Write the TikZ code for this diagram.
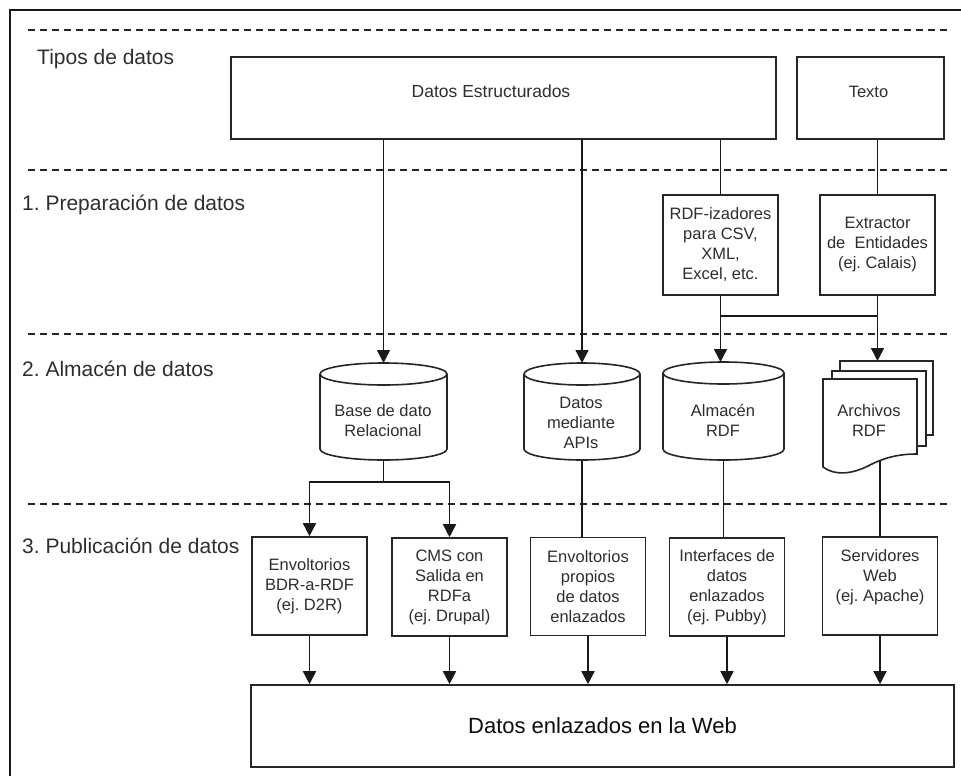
\documentclass[tikz,border=0pt]{standalone}
\usepackage{fontspec}
\setmainfont{Liberation Sans}
\usetikzlibrary{arrows.meta}
\pgfdeclarelayer{bg}
\pgfdeclarelayer{mid}
\pgfsetlayers{bg,mid,main}
\frenchspacing

% cylinder outline around a hidden rectangle node: #1 node name, #2 half width
\newcommand\drawcyl[2]{%
  \draw[shapeline, fill=white]
    ([yshift=-11pt]#1.north west) -- ([yshift=11pt]#1.south west)
    arc[start angle=180, end angle=360, x radius=#2, y radius=11pt]
    -- ([yshift=-11pt]#1.north east)
    arc[start angle=0, end angle=180, x radius=#2, y radius=11pt] -- cycle
    ([yshift=-11pt]#1.north west)
    arc[start angle=180, end angle=360, x radius=#2, y radius=11pt];}

\begin{document}
\begin{tikzpicture}[x=1pt, y=-1pt,
  txt/.style={font=\fontsize{16.5}{20}\selectfont, text=black!82, align=center, inner sep=0pt},
  shapeline/.style={draw=black!85, line width=1.6pt},
  box/.style={shapeline, fill=white, rectangle, inner sep=0pt,
    minimum width=115pt, minimum height=98pt, txt},
  hidden/.style={draw=none, rectangle, inner sep=0pt, outer sep=0pt},
  stage/.style={font=\fontsize{21}{24}\selectfont, text=black!82, anchor=west, inner sep=0pt},
  sep/.style={draw=black!85, line width=1.5pt, dash pattern=on 7pt off 5pt},
  conn/.style={draw=black!90, line width=1.5pt},
  arr/.style={conn, -{Triangle[length=13pt, width=13pt]}},
  frame/.style={draw=black!90, line width=1.6pt}]

\useasboundingbox (0,0) rectangle (961,776);

% outer frame
\draw[frame] (10,776) -- (10,10) -- (961,10);

% stage labels
\node[stage] (s0) at (37,59)  {Tipos de datos};
\node[stage] (s1) at (22,205) {1. Preparación de datos};
\node[stage] (s2) at (22,369) {2. Almacén de datos};
\node[stage] (s3) at (22,546) {3. Publicación de datos};

% data types
\node[box, minimum width=545pt, minimum height=82pt] (ds) at (503.5,98) {};
\node[txt, font=\fontsize{17.5}{20}\selectfont] (dstext) at (491,91) {Datos Estructurados};
\node[box, minimum width=147pt, minimum height=82pt] (tx) at (870.5,98) {};
\node[txt] (txtext) at (868.5,92) {Texto};

% preparation
\node[box, minimum height=100pt] (rdfz) at (720.5,245) {RDF-izadores\\para CSV,\\XML,\\Excel, etc.};
\node[box, minimum height=100pt] (ext) at (877.5,245) {Extractor\\de\ \ Entidades\\(ej. Calais)};

% storage: cylinders
\node[hidden, minimum width=127pt, minimum height=97pt] (bd)  at (383.5,411.5) {};
\node[hidden, minimum width=116pt, minimum height=97pt] (api) at (582,411.5) {};
\node[hidden, minimum width=121pt, minimum height=98pt] (alm) at (723.5,411) {};
\begin{pgfonlayer}{mid}
  \drawcyl{bd}{63.5pt}
  \drawcyl{api}{58pt}
  \drawcyl{alm}{60.5pt}
  % stack of RDF files
  \node[shapeline, fill=white, hidden, draw=black!85, minimum width=93pt, minimum height=74pt] (back3) at (886.5,398) {};
  \node[shapeline, fill=white, hidden, draw=black!85, minimum width=94pt, minimum height=75pt] (back2) at (879,408.5) {};
  \draw[shapeline, fill=white] (823,379) -- (917,379) -- (917,454)
    .. controls (900,454) and (885,457) .. (868,466)
    .. controls (852,474) and (835,476) .. (823,467) -- cycle;
\end{pgfonlayer}
\node[txt] (bdtext)  at (383,421)   {Base de dato\\Relacional};
\node[txt] (apitext) at (581,422.5) {Datos\\mediante\\APIs};
\node[txt] (almtext) at (723,420)   {Almacén\\RDF};
\node[txt] (arch)    at (869,421)   {Archivos\\RDF};

% publication
\node[box] (b1) at (309.5,586) {Envoltorios\\BDR-a-RDF\\(ej. D2R)};
\node[box] (b2) at (449.5,587) {CMS con\\Salida en\\RDFa\\(ej. Drupal)};
\node[box] (b3) at (588,586.5) {Envoltorios\\propios\\de datos\\enlazados};
\node[box] (b4) at (727,587)   {Interfaces de\\datos\\enlazados\\(ej. Pubby)};
\node[box] (b5) at (880,586)   {};
\node[txt] (b5text) at (880,577) {Servidores\\Web\\(ej. Apache)};

% linked data on the web
\node[box, minimum width=703pt, minimum height=82pt,
      font=\fontsize{22}{26}\selectfont, text=black!95] (web) at (602.5,726) {Datos enlazados en la Web};

\begin{pgfonlayer}{bg}
  % stage separators
  \draw[sep] (28,30)  -- (947,30);
  \draw[sep] (28,170) -- (947,170);
  \draw[sep] (28,334) -- (947,334);
  \draw[sep] (28,504) -- (947,504);

  % connectors
  \draw[arr]  (bd.north |- ds.south) -- (bd.north);
  \draw[arr]  (api.north |- ds.south) -- (api.north);
  \draw[conn] (rdfz.north |- ds.south) -- (rdfz.north);
  \draw[conn] (ext.north |- tx.south) -- (ext.north);
  \draw[arr]  (rdfz.south) -- (rdfz.south |- alm.north);
  \draw[arr]  (ext.south) -- (ext.south |- back3.north);
  \coordinate (join) at ([yshift=-20pt]rdfz.south);
  \draw[conn] (join) -- (join -| ext.south);

  \coordinate (split) at ([yshift=-22pt]bd.south);
  \draw[conn] (bd.south) -- (split);
  \draw[arr]  (split) -| (b1.north);
  \draw[arr]  (split) -| (b2.north);
  \draw[conn] (api.south) -- (api.south |- b3.north);
  \draw[conn] (alm.south) -- (alm.south |- b4.north);
  \draw[conn] (b5.north) -- (b5.north |- arch.center);

  \foreach \b in {b1,b2,b3,b4,b5}
    \draw[arr] (\b.south) -- (\b.south |- web.north);
\end{pgfonlayer}
\end{tikzpicture}
\end{document}
